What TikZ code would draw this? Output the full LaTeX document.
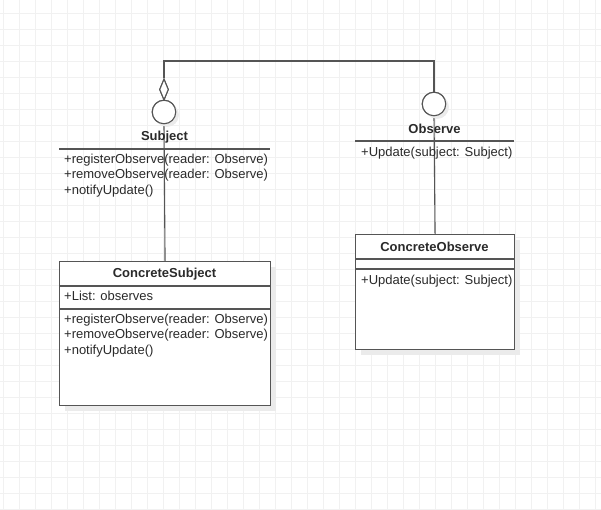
\documentclass[tikz,border=0pt]{standalone}
\usepackage{fontspec}
\setmainfont{Liberation Sans}
\usetikzlibrary{shapes.geometric,shadows}
\definecolor{gridc}{HTML}{F1F1F1}
\definecolor{linec}{HTML}{555555}
\definecolor{textc}{HTML}{2A2A2A}
\definecolor{shadc}{HTML}{EBEBEB}
\tikzset{
  umlline/.style={draw=linec, line width=1.1pt},
  shad/.style={drop shadow={fill=shadc, opacity=1, shadow xshift=5pt, shadow yshift=-5pt}},
  classbox/.style={umlline, fill=white, shad, rectangle, inner sep=0pt, anchor=north west},
  lollipop/.style={umlline, fill=white, circle, inner sep=0pt, minimum size=23.5pt,
    drop shadow={fill=shadc, opacity=1, shadow xshift=3pt, shadow yshift=-3pt}},
  aggdiamond/.style={umlline, fill=white, diamond, inner sep=0pt, minimum width=9pt, minimum height=21pt},
  title/.style={font=\fontsize{13}{15}\selectfont\bfseries, text=textc, inner sep=0pt},
  members/.style={font=\fontsize{13}{15.3}\selectfont, text=textc, inner sep=0pt, align=left, anchor=north west},
}
\begin{document}
\begin{tikzpicture}[x=1pt,y=-1pt]
  % canvas and background grid
  \useasboundingbox (0,0) rectangle (601,510);
  \fill[white] (0,0) rectangle (601,510);
  \foreach \gx in {3,19,...,600} \draw[gridc, line width=0.8pt] (\gx,0) -- (\gx,510);
  \foreach \gy in {13,29,...,510} \draw[gridc, line width=0.8pt] (0,\gy) -- (601,\gy);

  % concrete classes
  \node[classbox, minimum width=211pt, minimum height=144pt] (cs) at (59,261) {};
  \node[classbox, minimum width=159pt, minimum height=115pt] (co) at (355,234) {};

  % interface symbols
  \node[lollipop] (scirc) at (164,112) {};
  \node[lollipop] (ocirc) at (434,104) {};
  \node[aggdiamond] (sdiam) at (164,89.5) {};
  \coordinate (bend) at (434,61);

  % connectors
  \draw[umlline] (sdiam.north) |- (bend) -- (ocirc.north);
  \draw[umlline] (cs.north) -- (scirc.south);
  \draw[umlline] (scirc.north) -- (sdiam.south);
  \draw[umlline] (co.north) -- (ocirc.south);
  % redraw symbols on top of the lines
  \node[lollipop] at (scirc) {};
  \node[lollipop] at (ocirc) {};
  \node[aggdiamond] at (sdiam) {};

  % Subject interface
  \node[title] (stitle) at (164.5,137) {Subject};
  \coordinate (ssepL) at (59,149);
  \coordinate (ssepR) at (270,149);
  \draw[umlline] (ssepL) -- (ssepR);
  \node[members] (sops) at (64,154) {+registerObserve(reader: Observe)\\+removeObserve(reader: Observe)\\+notifyUpdate()};

  % Observe interface
  \node[title] (otitle) at (434.5,129) {Observe};
  \coordinate (osepL) at (355,141);
  \coordinate (osepR) at (514,141);
  \draw[umlline] (osepL) -- (osepR);
  \node[members] (oops) at (361,147) {+Update(subject: Subject)};

  % ConcreteSubject class
  \node[title] (cstitle) at (164.5,274) {ConcreteSubject};
  \draw[umlline] ([yshift=-25pt]cs.north west) -- ([yshift=-25pt]cs.north east);
  \draw[umlline] ([yshift=-48pt]cs.north west) -- ([yshift=-48pt]cs.north east);
  \node[members] (csattr) at (64,291) {+List: observes};
  \node[members] (csops) at (64,314) {+registerObserve(reader: Observe)\\+removeObserve(reader: Observe)\\+notifyUpdate()};

  % ConcreteObserve class
  \node[title] (cotitle) at (434.5,247) {ConcreteObserve};
  \draw[umlline] ([yshift=-25pt]co.north west) -- ([yshift=-25pt]co.north east);
  \draw[umlline] ([yshift=-35pt]co.north west) -- ([yshift=-35pt]co.north east);
  \node[members] (coops) at (361,275) {+Update(subject: Subject)};
\end{tikzpicture}
\end{document}
